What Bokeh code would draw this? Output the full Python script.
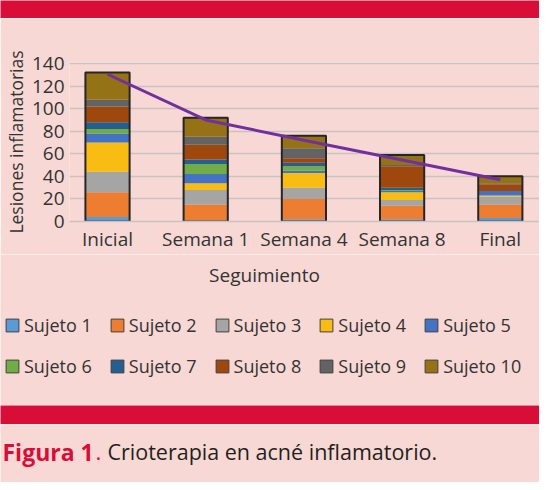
from bokeh.plotting import figure
from bokeh.models import ColumnDataSource, FixedTicker, Label, Legend, LegendItem, Range1d, Plot
from bokeh.layouts import column
from bokeh.embed import file_html
from bokeh.resources import INLINE

# ---- data ----
categories = ["Inicial", "Semana 1", "Semana 4", "Semana 8", "Final"]
subjects = ["Sujeto 1", "Sujeto 2", "Sujeto 3", "Sujeto 4", "Sujeto 5",
            "Sujeto 6", "Sujeto 7", "Sujeto 8", "Sujeto 9", "Sujeto 10"]
sujeto_1 = [4, 1, 2, 2, 3]
sujeto_2 = [22, 14, 18, 12, 12]
sujeto_3 = [18, 13, 10, 5, 7]
sujeto_4 = [26, 6, 13, 7, 1]
sujeto_5 = [8, 8, 2, 1, 4]
sujeto_6 = [4, 9, 4, 1, 0]
sujeto_7 = [6, 4, 3, 2, 0]
sujeto_8 = [14, 13, 4, 19, 6]
sujeto_9 = [6, 7, 9, 1, 1]
sujeto_10 = [24, 17, 11, 9, 6]
tendencia = [130.5, 90, 72, 54.5, 37]
y_ticks = [0, 20, 40, 60, 80, 100, 120, 140]

series = [sujeto_1, sujeto_2, sujeto_3, sujeto_4, sujeto_5,
          sujeto_6, sujeto_7, sujeto_8, sujeto_9, sujeto_10]
colors = ["#5B9BD5", "#ED7D31", "#A5A5A5", "#F8BC12", "#4472C4",
          "#70AD47", "#255E91", "#9E480E", "#636363", "#967216"]

BG = "#F7D8D4"
RED = "#D80E38"
GRID = "#C9C2C0"
TXT = "#333333"
FONT = "Open Sans"
W = 539
HAS_ALIGN = "frame_align" in Plot.properties()

xs = list(range(len(categories)))
data = {"x": xs}
for name, vals in zip(subjects, series):
    data[name] = vals
data["total"] = [sum(v[i] for v in series) for i in range(len(categories))]
data["trend"] = tendencia
source = ColumnDataSource(data)


def panel(h, color):
    f = figure(width=W, height=h, output_backend="svg", toolbar_location=None,
               x_range=(0, 1), y_range=(0, 1), min_border=0,
               x_axis_type=None, y_axis_type=None)
    f.grid.visible = False
    f.background_fill_color = color
    f.border_fill_color = color
    f.outline_line_color = None
    if HAS_ALIGN:
        f.frame_align = False
    return f


top_band = panel(18, RED)

# ---- main chart ----
p = figure(width=W, height=236, output_backend="svg", toolbar_location=None,
           x_range=Range1d(-0.387, 4.399), y_range=Range1d(0, 140.9),
           min_border_left=69, min_border_right=0, min_border_top=44,
           min_border_bottom=33)
p.background_fill_color = BG
p.border_fill_color = BG
p.outline_line_color = None
if HAS_ALIGN:
    p.frame_align = False

p.vbar_stack(subjects, x="x", width=0.45, color=colors,
             line_color=None, source=source)
p.vbar(x="x", top="total", width=0.45, fill_color=None,
       line_color="#262626", line_width=2, source=source)
p.line(x="x", y="trend", line_color="#7030A0", line_width=3, source=source)

p.xgrid.visible = False
p.ygrid.ticker = FixedTicker(ticks=y_ticks)
p.ygrid.grid_line_color = GRID
p.ygrid.grid_line_width = 1.5

for ax in (p.xaxis, p.yaxis):
    ax.major_tick_line_color = None
    ax.minor_tick_line_color = None
    ax.major_tick_out = 0
    ax.major_tick_in = 0
    ax.minor_tick_out = 0
    ax.minor_tick_in = 0
    ax.major_label_text_font = FONT
    ax.major_label_text_font_size = "19px"
    ax.major_label_text_color = TXT

p.yaxis.ticker = FixedTicker(ticks=y_ticks)
p.yaxis.axis_line_color = None
p.yaxis.major_label_standoff = 5
p.yaxis.axis_label = "Lesiones inflamatorias"
p.yaxis.axis_label_standoff = 1
p.yaxis.axis_label_text_font = FONT
p.yaxis.axis_label_text_font_size = "17.5px"
p.yaxis.axis_label_text_font_style = "normal"
p.yaxis.axis_label_text_color = TXT

p.xaxis.ticker = FixedTicker(ticks=xs)
p.xaxis.major_label_overrides = {i: c for i, c in zip(xs, categories)}
p.xaxis.axis_line_color = GRID
p.xaxis.axis_line_width = 1.5
p.xaxis.major_label_standoff = 4

# ---- axis title + legend ----
low = panel(151, BG)
low.add_layout(Label(x=264, y=131, x_units="screen", y_units="screen",
                     text="Seguimiento", text_align="center",
                     text_baseline="alphabetic",
                     text_font=FONT, text_font_size="19px", text_color=TXT))
items = []
for name, c in zip(subjects, colors):
    # legend-only swatch renderer (no visible mark)
    r = low.vbar(x=[float("nan")], top=[float("nan")], width=0.45,
                 fill_color=c, line_color="#404040", line_width=1)
    items.append(LegendItem(label=name, renderers=[r]))
legend = Legend(items=items, location=(4, 27.5), orientation="horizontal",
                ncols=5, glyph_width=16, glyph_height=16, label_standoff=4,
                spacing=17, padding=0, margin=0,
                label_text_font=FONT, label_text_font_size="18px",
                label_text_color=TXT,
                background_fill_alpha=0, border_line_alpha=0)
low.add_layout(legend)

bottom_band = panel(19, RED)

cap = panel(58, BG)
cap.add_layout(Label(x=2, y=31, x_units="screen", y_units="screen",
                     text="Figura 1", text_font=FONT, text_font_style="bold",
                     text_font_size="23px", text_color=RED,
                     text_baseline="alphabetic"))
cap.add_layout(Label(x=95, y=31, x_units="screen", y_units="screen",
                     text=".", text_font=FONT,
                     text_font_size="22px", text_color=RED,
                     text_baseline="alphabetic"))
cap.add_layout(Label(x=107, y=31, x_units="screen", y_units="screen",
                     text="Crioterapia en acné inflamatorio.", text_font=FONT,
                     text_font_size="21.5px", text_color="#231F20",
                     text_baseline="alphabetic"))

layout = column(top_band, p, low, bottom_band, cap, spacing=0)

open("out.html", "w").write(file_html(layout, INLINE))
